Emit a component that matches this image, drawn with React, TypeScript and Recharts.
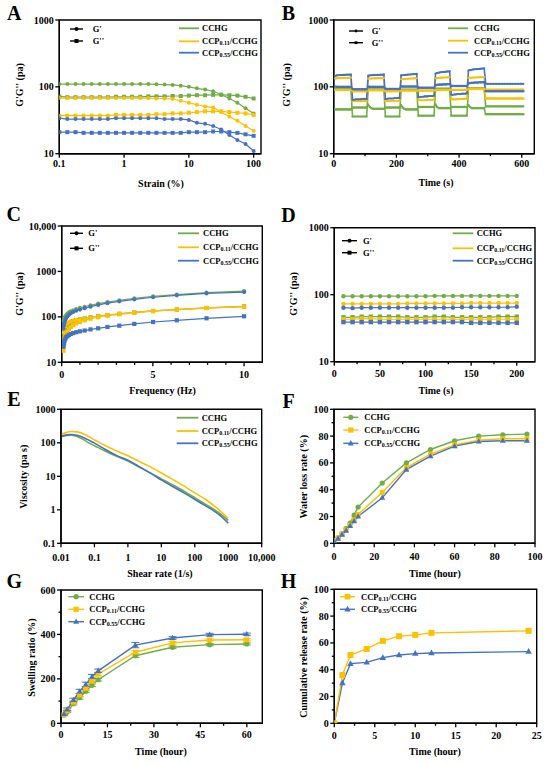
import React from 'react';
import { LineChart, Line, XAxis, YAxis, ReferenceArea, ErrorBar } from 'recharts';

const GREEN = '#70AD47';
const GOLD = '#FFC000';
const BLUE = '#4472C4';
const FONT = '"Liberation Serif", "Times New Roman", serif';
const YW = 30;
const XH = 20;

// ---------- A: strain sweep ----------
const A_strain = [0.1, 0.133, 0.178, 0.237, 0.316, 0.422, 0.562, 0.75, 1, 1.33, 1.78, 2.37, 3.16, 4.22, 5.62, 7.5, 10, 13.3, 17.8, 23.7, 31.6, 42.2, 56.2, 75, 100];
const A_gGp = [110, 110, 110, 110, 110, 110, 110, 110, 110, 110, 110, 110, 109, 108, 107, 104, 100, 95, 91, 86, 77, 67, 58, 48, 40];
const A_gGpp = [72, 70, 70, 70, 70, 70, 70, 71, 71, 71, 71, 72, 72, 72, 73, 73, 74, 75, 75, 76, 76, 75, 74, 71, 67];
const A_yGp = [68, 68, 68, 68, 68, 68, 68, 68, 68, 68, 68, 68, 67, 67, 66, 62, 58, 54, 51, 49, 42, 36, 31, 26, 22];
const A_yGpp = [37, 37, 37, 37, 37, 37, 37, 38, 38, 38, 38, 38, 39, 39, 40, 40, 41, 42, 43, 43, 43, 42, 41, 40, 38];
const A_bGp = [34, 33, 33, 33, 33, 33, 33, 34, 34, 34, 34, 34, 34, 33, 33, 33, 32, 29, 28, 26, 23, 19, 16, 14, 11];
const A_bGpp = [21, 21, 21, 20.5, 20.5, 20.5, 20.5, 20.5, 20.5, 20.5, 20.5, 20.5, 20.5, 20.5, 20.5, 20.5, 21, 21, 21, 21.5, 21.5, 21, 20.5, 19.5, 18.5];

// ---------- B: alternating strain time sweep ----------
const B_time = [
  5, 10, 15, 20, 25, 30, 35, 40, 45, 50, 55,
  60, 65, 70, 75, 80, 85, 90, 95, 100, 105,
  110, 115, 120, 125, 130, 135, 140, 145, 150, 155, 160,
  165, 170, 175, 180, 185, 190, 195, 200, 205, 210,
  215, 220, 225, 230, 235, 240, 245, 250, 255, 260, 265,
  270, 275, 280, 285, 290, 295, 300, 305, 310, 315, 320,
  325, 330, 335, 340, 345, 350, 355, 360, 365, 370,
  375, 380, 385, 390, 395, 400, 405, 410, 415, 420, 425,
  430, 435, 440, 445, 450, 455, 460, 465, 470, 475, 480,
  485, 490, 495, 500, 505, 510, 515, 520, 525, 530, 535, 540, 545, 550, 555, 560, 565, 570, 575, 580, 585, 590, 595, 600, 605,
];
const B_bGp = [
  146, 148, 149, 150, 150, 151, 151, 152, 152, 152, 153,
  64, 64, 65, 65, 65, 65, 66, 66, 66, 66,
  147, 148, 149, 150, 150, 151, 151, 151, 152, 152, 153,
  66, 66, 67, 67, 67, 67, 68, 68, 68, 68,
  148, 149, 150, 151, 152, 153, 153, 154, 155, 155, 156,
  70, 70, 71, 71, 72, 72, 72, 73, 73, 73, 74,
  158, 161, 163, 165, 166, 167, 168, 169, 170, 171,
  76, 76, 77, 77, 78, 78, 78, 79, 79, 79, 80,
  175, 178, 180, 182, 183, 184, 185, 186, 187, 188, 189,
  112, 111, 111, 111, 111, 111, 111, 111, 111, 111, 111, 111, 111, 111, 111, 111, 111, 111, 111, 111, 111, 111, 111, 111, 111,
];
const B_bGpp = [
  101, 100, 100, 100, 100, 100, 100, 100, 100, 100, 100,
  93, 92, 92, 92, 92, 92, 92, 92, 92, 92,
  101, 100, 100, 100, 100, 100, 100, 100, 100, 100, 100,
  94, 93, 93, 93, 93, 93, 93, 93, 93, 93,
  102, 101, 101, 101, 101, 101, 101, 101, 101, 101, 101,
  98, 97, 97, 97, 97, 97, 97, 97, 97, 97, 97,
  106, 107, 108, 108, 108, 109, 109, 109, 110, 110,
  104, 103, 103, 103, 103, 103, 103, 103, 103, 103, 103,
  113, 114, 115, 115, 116, 116, 116, 117, 117, 117, 118,
  86, 86, 86, 86, 86, 86, 86, 86, 86, 86, 86, 86, 86, 86, 86, 86, 86, 86, 86, 86, 86, 86, 86, 86, 86,
];
const B_yGp = [
  133, 134, 135, 135, 135, 136, 136, 136, 136, 137, 137,
  61, 61, 61, 61, 61, 61, 61, 61, 61, 61,
  132, 133, 133, 134, 134, 134, 135, 135, 135, 135, 135,
  61, 61, 61, 61, 62, 62, 62, 62, 62, 62,
  130, 131, 131, 132, 132, 133, 133, 133, 134, 134, 134,
  63, 63, 63, 63, 63, 63, 64, 64, 64, 64, 64,
  134, 135, 136, 137, 137, 138, 138, 138, 139, 139,
  65, 65, 65, 65, 65, 66, 66, 66, 66, 66, 66,
  136, 137, 137, 138, 138, 138, 139, 139, 139, 140, 140,
  91, 91, 91, 91, 91, 91, 91, 91, 91, 91, 91, 91, 91, 91, 91, 91, 91, 91, 91, 91, 91, 91, 91, 91, 91,
];
const B_yGpp = [
  90, 90, 90, 90, 90, 90, 90, 90, 90, 90, 90,
  86, 86, 86, 86, 86, 86, 86, 86, 86, 86,
  89, 89, 89, 89, 89, 89, 89, 89, 89, 89, 89,
  86, 86, 86, 86, 86, 86, 86, 86, 86, 86,
  88, 88, 88, 88, 88, 88, 88, 88, 88, 88, 88,
  88, 88, 88, 88, 88, 88, 88, 88, 88, 88, 88,
  90, 90, 90, 90, 90, 90, 90, 90, 90, 90,
  90, 90, 90, 90, 90, 90, 90, 90, 90, 90, 90,
  93, 93, 93, 93, 93, 93, 93, 93, 93, 93, 93,
  67, 67, 67, 67, 67, 67, 67, 67, 67, 67, 67, 67, 67, 67, 67, 67, 67, 67, 67, 67, 67, 67, 67, 67, 67,
];
const B_gGp = [
  93, 93, 93, 93, 93, 93, 93, 93, 93, 93, 93,
  36, 36, 36, 36, 36, 36, 36, 36, 36, 36,
  92, 92, 92, 92, 92, 92, 92, 92, 92, 92, 92,
  36, 36, 36, 36, 36, 36, 36, 36, 36, 36,
  91, 91, 91, 91, 91, 91, 91, 91, 91, 91, 91,
  37, 37, 37, 37, 37, 37, 37, 37, 37, 37, 37,
  94, 94, 94, 94, 94, 94, 94, 94, 94, 94,
  37, 37, 37, 37, 37, 37, 37, 37, 37, 37, 37,
  95, 95, 95, 95, 95, 95, 95, 95, 95, 95, 95,
  51, 51, 51, 51, 51, 51, 51, 51, 51, 51, 51, 51, 51, 51, 51, 51, 51, 51, 51, 51, 51, 51, 51, 51, 51,
];
const B_gGpp = [
  46, 46, 46, 46, 46, 46, 46, 46, 46, 46, 46,
  49, 49, 49, 49, 49, 49, 49, 49, 49, 49,
  54, 50, 48, 47, 47, 47, 47, 47, 47, 47, 47,
  49, 49, 49, 49, 49, 49, 49, 49, 49, 49,
  53, 49, 47, 46, 46, 46, 46, 46, 46, 46, 46,
  50, 50, 50, 50, 50, 50, 50, 50, 50, 50, 50,
  54, 50, 48, 48, 48, 48, 48, 48, 48, 48,
  50, 50, 50, 50, 50, 50, 50, 50, 50, 50, 50,
  53, 50, 48, 48, 48, 48, 48, 48, 48, 48, 48,
  39, 39, 39, 39, 39, 39, 39, 39, 39, 39, 39, 39, 39, 39, 39, 39, 39, 39, 39, 39, 39, 39, 39, 39, 39,
];

// ---------- C: frequency sweep ----------
const C_freq = [0.1, 0.126, 0.158, 0.2, 0.251, 0.316, 0.398, 0.501, 0.631, 0.794, 1, 1.26, 1.58, 2, 2.51, 3.16, 3.98, 5.01, 6.31, 7.94, 10];
const C_gGp = [80, 88, 95, 103, 110, 118, 125, 133, 140, 148, 157, 167, 180, 195, 212, 232, 255, 282, 310, 340, 368];
const C_bGp = [55, 65, 75, 85, 95, 103, 112, 120, 128, 137, 145, 155, 168, 183, 200, 220, 243, 270, 298, 328, 352];
const C_gGpp = [35, 42, 50, 56, 62, 67, 72, 77, 81, 85, 89, 93, 98, 104, 110, 117, 125, 135, 145, 157, 170];
const C_yGp = [45, 52, 58, 63, 68, 72, 76, 80, 83, 86, 89, 93, 98, 104, 110, 117, 125, 135, 145, 157, 168];
const C_yGpp = [18, 24, 30, 36, 42, 48, 54, 60, 66, 72, 77, 84, 91, 98, 106, 114, 123, 133, 144, 156, 167];
const C_bGpp = [22, 26, 30, 33, 36, 38, 40, 42, 44, 46, 48, 50, 53, 56, 60, 64, 70, 77, 84, 93, 103];

// ---------- D: time sweep ----------
const D_time = [10, 20, 30, 40, 50, 60, 70, 80, 90, 100, 110, 120, 130, 140, 150, 160, 170, 180, 190, 200];
const D_gGp = [95, 95, 95, 95, 95, 95, 95, 95, 95, 95, 96, 96, 96, 96, 96, 96, 96, 96, 96, 96];
const D_yGp = [73, 73, 73, 73, 73, 73, 73, 74, 74, 74, 74, 74, 74, 74, 75, 75, 75, 75, 75, 75];
const D_bGp = [64, 63, 64, 64, 64, 64, 64, 64, 64, 64, 64, 64, 64, 65, 65, 65, 65, 65, 65, 66];
const D_gGpp = [46, 46, 47, 47, 47, 47, 47, 46, 46, 46, 47, 47, 46, 46, 46, 46, 46, 47, 47, 47];
const D_yGpp = [43, 43, 44, 44, 43, 43, 43, 43, 43, 43, 43, 43, 43, 43, 43, 43, 43, 43, 43, 43];
const D_bGpp = [39, 39, 39, 39, 39, 39, 39, 39, 39, 39, 39, 39, 39, 39, 38, 38, 38, 38, 38, 38];

// ---------- E: viscosity ----------
const E_rate = [0.01, 0.015, 0.02, 0.03, 0.05, 0.07, 0.1, 0.2, 0.5, 1, 2, 5, 10, 20, 50, 100, 200, 500, 1000];
const E_green = [151, 165, 170, 155, 120, 98, 82, 58, 38, 28.5, 19.5, 12.2, 8.4, 5.8, 3.5, 2.3, 1.5, 0.85, 0.48];
const E_gold = [181, 205, 218, 212, 180, 150, 122, 85, 55, 41, 29, 18.5, 12.5, 8.5, 5, 3.2, 2.1, 1.05, 0.55];
const E_blue = [158, 172, 177, 168, 140, 118, 98, 65, 40, 30, 20.5, 12, 7.8, 5.2, 3.1, 2.05, 1.35, 0.75, 0.4];

// ---------- F: water loss ----------
const F_time = [0, 2, 4, 6, 8, 10, 12, 24, 36, 48, 60, 72, 84, 96];
const F_green = [2, 4, 7, 11, 15, 21, 27, 45, 60, 70, 76.5, 80, 81, 81.5];
const F_gold = [2, 4, 7, 10, 13.5, 17.5, 21.5, 38, 56.5, 66.5, 73.5, 77, 78, 78];
const F_blue = [1.5, 3.5, 6.5, 9.5, 13, 16.5, 20, 34, 55, 65, 72.5, 76, 76.5, 76.5];

// ---------- G: swelling ----------
const G_time = [1, 2, 4, 6, 8, 10, 12, 24, 36, 48, 60];
const G_green = [37, 52, 88, 115, 144, 171, 196, 304, 342, 354, 357];
const G_gold = [40, 58, 95, 127, 157, 190, 222, 320, 362, 375, 376];
const G_blue = [42, 63, 105, 143, 175, 210, 236, 352, 384, 399, 401];
const G_greenErr = [3, 4, 5, 6, 6, 6, 6, 8, 6, 5, 5];
const G_goldErr = [3, 5, 6, 8, 8, 10, 8, 8, 6, 5, 5];
const G_blueErr = [4, 6, 8, 10, 10, 10, 8, 12, 6, 6, 5];

// ---------- H: release ----------
const H_time = [0, 1, 2, 4, 6, 8, 10, 12, 24];
const H_gold = [0, 36, 51, 55.5, 61.5, 65, 66, 67.5, 69];
const H_blue = [0, 30, 44.5, 45.5, 49, 51, 52, 52.5, 53.5];

const NAMES = [['CCHG'], ['CCP', '0.11', '/CCHG'], ['CCP', '0.55', '/CCHG']];

const rowsA = A_strain.map((x, i) => ({ x, gGp: A_gGp[i], gGpp: A_gGpp[i], yGp: A_yGp[i], yGpp: A_yGpp[i], bGp: A_bGp[i], bGpp: A_bGpp[i] }));
const rowsB = B_time.map((x, i) => ({ x, gGp: B_gGp[i], gGpp: B_gGpp[i], yGp: B_yGp[i], yGpp: B_yGpp[i], bGp: B_bGp[i], bGpp: B_bGpp[i] }));
const rowsC = C_freq.map((x, i) => ({ x, gGp: C_gGp[i], gGpp: C_gGpp[i], yGp: C_yGp[i], yGpp: C_yGpp[i], bGp: C_bGp[i], bGpp: C_bGpp[i] }));
const rowsD = D_time.map((x, i) => ({ x, gGp: D_gGp[i], gGpp: D_gGpp[i], yGp: D_yGp[i], yGpp: D_yGpp[i], bGp: D_bGp[i], bGpp: D_bGpp[i] }));
const rowsE = E_rate.map((x, i) => ({ x, g: E_green[i], y: E_gold[i], b: E_blue[i] }));
const rowsF = F_time.map((x, i) => ({ x, g: F_green[i], y: F_gold[i], b: F_blue[i] }));
const rowsG = G_time.map((x, i) => ({ x, g: G_green[i], y: G_gold[i], b: G_blue[i], ge: G_greenErr[i], ye: G_goldErr[i], be: G_blueErr[i] }));
const rowsH = H_time.map((x, i) => ({ x, y: H_gold[i], b: H_blue[i] }));

const fmtNum = (v: number) => (v >= 10000 ? v.toLocaleString('en-US') : String(v));

function marker(shape: string, cx: number, cy: number, s: number, color: string, key?: any) {
  if (shape === 'circle') return <circle key={key} cx={cx} cy={cy} r={s} fill={color} />;
  if (shape === 'square') return <rect key={key} x={cx - s} y={cy - s} width={2 * s} height={2 * s} fill={color} />;
  return (
    <polygon
      key={key}
      points={`${cx},${cy - s * 1.25} ${cx - s * 1.15},${cy + s * 0.8} ${cx + s * 1.15},${cy + s * 0.8}`}
      fill={color}
    />
  );
}

const mk = (shape: string, color: string, s: number) => (p: any) => {
  if (p.cx == null || p.cy == null) return <g key={p.index} />;
  return marker(shape, p.cx, p.cy, s, color, p.index);
};

const tickX = (labels: number[], gap: number) => (p: any) => {
  const v = p.payload.value;
  const major = labels.indexOf(v) >= 0;
  return (
    <g>
      <line x1={p.x} x2={p.x} y1={p.y} y2={p.y + (major ? 4 : 2.5)} stroke="#000" strokeWidth={1.3} />
      {major && (
        <text x={p.x} y={p.y + gap + 6.8} textAnchor="middle" fontSize={10} fontWeight="bold" fontFamily={FONT} fill="#000">
          {fmtNum(v)}
        </text>
      )}
    </g>
  );
};

const tickY = (labels: number[]) => (p: any) => {
  const v = p.payload.value;
  const major = labels.indexOf(v) >= 0;
  return (
    <g>
      <line x1={p.x - (major ? 4 : 2.5)} x2={p.x} y1={p.y} y2={p.y} stroke="#000" strokeWidth={1.3} />
      {major && (
        <text x={p.x - 5.5} y={p.y} dy="0.35em" textAnchor="end" fontSize={10} fontWeight="bold" fontFamily={FONT} fill="#000">
          {fmtNum(v)}
        </text>
      )}
    </g>
  );
};

const AXL = { stroke: '#000', strokeWidth: 1.4 };

function xAxis(domain: number[], ticks: number[], labels: number[], gap: number, log = false) {
  return (
    <XAxis
      type="number"
      dataKey="x"
      domain={domain}
      ticks={ticks}
      interval={0}
      tickSize={0}
      tickMargin={0}
      tickLine={false}
      height={XH}
      axisLine={AXL}
      allowDataOverflow
      scale={log ? 'log' : 'linear'}
      tick={tickX(labels, gap)}
    />
  );
}

function yAxis(domain: number[], ticks: number[], labels: number[], log = false) {
  return (
    <YAxis
      type="number"
      domain={domain}
      ticks={ticks}
      interval={0}
      tickSize={0}
      tickMargin={0}
      tickLine={false}
      width={YW}
      axisLine={AXL}
      allowDataOverflow
      scale={log ? 'log' : 'linear'}
      tick={tickY(labels)}
    />
  );
}

function frame(xd: number[], yd: number[]) {
  return <ReferenceArea x1={xd[0]} x2={xd[1]} y1={yd[0]} y2={yd[1]} fill="none" fillOpacity={0} stroke="#000" strokeWidth={1.4} ifOverflow="visible" />;
}

type Box = { left: number; top: number; w: number; h: number };
type Plot = { x0: number; y0: number; x1: number; y1: number };

function Panel({ box, plot, data, children }: { box: Box; plot: Plot; data: any[]; children: React.ReactNode }) {
  const margin = {
    left: plot.x0 - box.left - YW,
    top: plot.y0 - box.top,
    right: box.left + box.w - plot.x1,
    bottom: box.top + box.h - plot.y1 - XH,
  };
  return (
    <div style={{ position: 'absolute', left: box.left, top: box.top }}>
      <LineChart width={box.w} height={box.h} data={data} margin={margin}>
        {children}
      </LineChart>
    </div>
  );
}

// six rheology series (G' circles, G'' squares)
function rheoLines(s: number, w: number) {
  const cfg: [string, string, string][] = [
    ['gGp', GREEN, 'circle'],
    ['gGpp', GREEN, 'square'],
    ['yGp', GOLD, 'circle'],
    ['yGpp', GOLD, 'square'],
    ['bGp', BLUE, 'circle'],
    ['bGpp', BLUE, 'square'],
  ];
  return cfg.map(([k, c, sh]) => (
    <Line key={k} dataKey={k} type="linear" stroke={c} strokeWidth={w} dot={mk(sh, c, s)} activeDot={false} isAnimationActive={false} />
  ));
}

function T({ x, y, size = 10, anchor = 'middle', rot = false, children }: any) {
  return (
    <text
      x={x}
      y={y}
      fontSize={size}
      fontWeight="bold"
      fontFamily={FONT}
      fill="#000"
      textAnchor={anchor}
      dominantBaseline="central"
      transform={rot ? `rotate(-90 ${x} ${y})` : undefined}
    >
      {children}
    </text>
  );
}

function Name({ x, y, parts }: { x: number; y: number; parts: string[] }) {
  if (parts.length === 1) return <T x={x} y={y} size={8.5} anchor="start">{parts[0]}</T>;
  return (
    <T x={x} y={y} size={8.5} anchor="start">
      {parts[0]}
      <tspan fontSize={6} dy={2}>{parts[1]}</tspan>
      <tspan dy={-2}>{parts[2]}</tspan>
    </T>
  );
}

function Sym({ x0, x1, y, color, shape, s = 2.2, w = 1.4 }: any) {
  return (
    <g>
      <line x1={x0} x2={x1} y1={y} y2={y} stroke={color} strokeWidth={w} />
      {shape && marker(shape, (x0 + x1) / 2, y, s, color)}
    </g>
  );
}

function GLegend({ x0, x1, tx, rows, s }: any) {
  return (
    <g>
      <Sym x0={x0} x1={x1} y={rows[0]} color="#000" shape="circle" s={s} />
      <T x={tx} y={rows[0]} size={8.5} anchor="start">G'</T>
      <Sym x0={x0} x1={x1} y={rows[1]} color="#000" shape="square" s={s} />
      <T x={tx} y={rows[1]} size={8.5} anchor="start">G''</T>
    </g>
  );
}

function SampleLegend({ x0, x1, tx, rows, shapes, s, names = NAMES, colors = [GREEN, GOLD, BLUE], w = 1.8 }: any) {
  return (
    <g>
      {rows.map((y: number, i: number) => (
        <g key={i}>
          <Sym x0={x0} x1={x1} y={y} color={colors[i]} shape={shapes ? shapes[i] : null} s={s} w={w} />
          <Name x={tx} y={y} parts={names[i]} />
        </g>
      ))}
    </g>
  );
}

export default function App() {
  return (
    <div style={{ position: 'relative', width: 550, height: 764, background: '#fff', overflow: 'hidden' }}>
      <style>{'body{margin:0}'}</style>

      {/* A */}
      <Panel box={{ left: 0, top: 0, w: 275, h: 190 }} plot={{ x0: 59.3, y0: 20, x1: 261, y1: 153.7 }} data={rowsA}>
        {xAxis([0.1, 130], [0.1, 1, 10, 100], [0.1, 1, 10, 100], 6.3, true)}
        {yAxis([10, 1000], [10, 100, 1000], [10, 100, 1000], true)}
        {frame([0.1, 130], [10, 1000])}
        {rheoLines(2, 1.2)}
      </Panel>

      {/* B */}
      <Panel box={{ left: 275, top: 0, w: 275, h: 190 }} plot={{ x0: 333.7, y0: 20, x1: 534.3, y1: 153.7 }} data={rowsB}>
        {xAxis([0, 640], [0, 100, 200, 300, 400, 500, 600], [0, 200, 400, 600], 6)}
        {yAxis([10, 1000], [10, 100, 1000], [10, 100, 1000], true)}
        {frame([0, 640], [10, 1000])}
        {rheoLines(1.1, 1.6)}
      </Panel>

      {/* C */}
      <Panel box={{ left: 0, top: 190, w: 275, h: 195 }} plot={{ x0: 61.7, y0: 226, x1: 262.3, y1: 362.3 }} data={rowsC}>
        {xAxis([0, 11], [0, 1, 2, 3, 4, 5, 6, 7, 8, 9, 10], [0, 5, 10], 9.3)}
        {yAxis([10, 10000], [10, 100, 1000, 10000], [10, 100, 1000, 10000], true)}
        {frame([0, 11], [10, 10000])}
        {rheoLines(2.1, 1.2)}
      </Panel>

      {/* D */}
      <Panel box={{ left: 275, top: 190, w: 275, h: 195 }} plot={{ x0: 334.3, y0: 227.7, x1: 535, y1: 361.7 }} data={rowsD}>
        {xAxis([0, 220], [0, 25, 50, 75, 100, 125, 150, 175, 200], [0, 50, 100, 150, 200], 8.3)}
        {yAxis([10, 1000], [10, 100, 1000], [10, 100, 1000], true)}
        {frame([0, 220], [10, 1000])}
        {rheoLines(2.2, 1.2)}
      </Panel>

      {/* E */}
      <Panel box={{ left: 0, top: 385, w: 290, h: 190 }} plot={{ x0: 61, y0: 409.3, x1: 261.7, y1: 543.3 }} data={rowsE}>
        {xAxis([0.01, 10000], [0.01, 0.1, 1, 10, 100, 1000, 10000], [0.01, 0.1, 1, 10, 100, 1000, 10000], 11, true)}
        {yAxis([0.1, 1000], [0.1, 1, 10, 100, 1000], [0.1, 1, 10, 100, 1000], true)}
        {frame([0.01, 10000], [0.1, 1000])}
        <Line dataKey="g" type="monotone" stroke={GREEN} strokeWidth={1.6} dot={false} activeDot={false} isAnimationActive={false} />
        <Line dataKey="y" type="monotone" stroke={GOLD} strokeWidth={1.6} dot={false} activeDot={false} isAnimationActive={false} />
        <Line dataKey="b" type="monotone" stroke={BLUE} strokeWidth={1.6} dot={false} activeDot={false} isAnimationActive={false} />
      </Panel>

      {/* F */}
      <Panel box={{ left: 275, top: 385, w: 275, h: 190 }} plot={{ x0: 334, y0: 409.3, x1: 535, y1: 543.3 }} data={rowsF}>
        {xAxis([0, 100], [0, 10, 20, 30, 40, 50, 60, 70, 80, 90, 100], [0, 20, 40, 60, 80, 100], 10)}
        {yAxis([0, 100], [0, 10, 20, 30, 40, 50, 60, 70, 80, 90, 100], [0, 20, 40, 60, 80, 100])}
        {frame([0, 100], [0, 100])}
        <Line dataKey="g" type="linear" stroke={GREEN} strokeWidth={1.4} dot={mk('circle', GREEN, 2.6)} activeDot={false} isAnimationActive={false} />
        <Line dataKey="y" type="linear" stroke={GOLD} strokeWidth={1.4} dot={mk('square', GOLD, 2.5)} activeDot={false} isAnimationActive={false} />
        <Line dataKey="b" type="linear" stroke={BLUE} strokeWidth={1.4} dot={mk('triangle', BLUE, 2.6)} activeDot={false} isAnimationActive={false} />
      </Panel>

      {/* G */}
      <Panel box={{ left: 0, top: 575, w: 275, h: 189 }} plot={{ x0: 61, y0: 590, x1: 262.3, y1: 723.3 }} data={rowsG}>
        {xAxis([0, 65], [0, 7.5, 15, 22.5, 30, 37.5, 45, 52.5, 60], [0, 15, 30, 45, 60], 8.3)}
        {yAxis([0, 600], [0, 100, 200, 300, 400, 500, 600], [0, 200, 400, 600])}
        {frame([0, 65], [0, 600])}
        <Line dataKey="g" type="linear" stroke={GREEN} strokeWidth={1.4} dot={mk('circle', GREEN, 2.6)} activeDot={false} isAnimationActive={false}>
          <ErrorBar dataKey="ge" width={4} stroke={GREEN} strokeWidth={1} direction="y" isAnimationActive={false} />
        </Line>
        <Line dataKey="y" type="linear" stroke={GOLD} strokeWidth={1.4} dot={mk('square', GOLD, 2.5)} activeDot={false} isAnimationActive={false}>
          <ErrorBar dataKey="ye" width={4} stroke={GOLD} strokeWidth={1} direction="y" isAnimationActive={false} />
        </Line>
        <Line dataKey="b" type="linear" stroke={BLUE} strokeWidth={1.4} dot={mk('triangle', BLUE, 2.6)} activeDot={false} isAnimationActive={false}>
          <ErrorBar dataKey="be" width={4} stroke={BLUE} strokeWidth={1} direction="y" isAnimationActive={false} />
        </Line>
      </Panel>

      {/* H */}
      <Panel box={{ left: 275, top: 575, w: 275, h: 189 }} plot={{ x0: 334.3, y0: 589.3, x1: 536.7, y1: 723.3 }} data={rowsH}>
        {xAxis([0, 25], [0, 2.5, 5, 7.5, 10, 12.5, 15, 17.5, 20, 22.5, 25], [0, 5, 10, 15, 20, 25], 9)}
        {yAxis([0, 100], [0, 10, 20, 30, 40, 50, 60, 70, 80, 90, 100], [0, 20, 40, 60, 80, 100])}
        {frame([0, 25], [0, 100])}
        <Line dataKey="b" type="linear" stroke={BLUE} strokeWidth={1.4} dot={mk('triangle', BLUE, 2.8)} activeDot={false} isAnimationActive={false} />
        <Line dataKey="y" type="linear" stroke={GOLD} strokeWidth={1.4} dot={mk('square', GOLD, 3)} activeDot={false} isAnimationActive={false} />
      </Panel>

      {/* titles, letters, legends */}
      <svg width={550} height={764} style={{ position: 'absolute', left: 0, top: 0, pointerEvents: 'none' }}>
        <T x={14.2} y={13.3} size={20}>A</T>
        <T x={288.5} y={13} size={20}>B</T>
        <T x={13.8} y={213.5} size={20}>C</T>
        <T x={288.5} y={215} size={20}>D</T>
        <T x={13.8} y={398.5} size={20}>E</T>
        <T x={288.5} y={401} size={20}>F</T>
        <T x={14.2} y={581} size={20}>G</T>
        <T x={288.5} y={581} size={20}>H</T>

        <T x={161} y={183}>Strain (%)</T>
        <T x={19} y={85} rot>G'G'' (pa)</T>
        <T x={436} y={182.7}>Time (s)</T>
        <T x={286} y={85} rot>G'G'' (pa)</T>
        <T x={162.5} y={390.7}>Frequency (Hz)</T>
        <T x={19} y={294} rot>G'G'' (pa)</T>
        <T x={436} y={390}>Time (s)</T>
        <T x={293} y={294} rot>G'G'' (pa)</T>
        <T x={160} y={573}>Shear rate (1/s)</T>
        <T x={24} y={476.7} rot>Viscosity (pa s)</T>
        <T x={435} y={573}>Time (hour)</T>
        <T x={304} y={476.7} rot>Water loss rate (%)</T>
        <T x={161} y={751.7}>Time (hour)</T>
        <T x={31} y={657.5} rot>Swelling ratio (%)</T>
        <T x={435} y={751.7}>Time (hour)</T>
        <T x={303} y={657.5} rot>Cumulative release rate (%)</T>

        <GLegend x0={70} x1={83} tx={92.7} rows={[29, 41]} s={2} />
        <SampleLegend x0={179} x1={199} tx={202} rows={[28.3, 41.3, 52.7]} />

        <GLegend x0={349} x1={363} tx={371.7} rows={[31, 42.7]} s={1.4} />
        <SampleLegend x0={448} x1={468} tx={474} rows={[28.3, 40.7, 52.7]} />

        <GLegend x0={70} x1={83} tx={88.3} rows={[233.3, 248.3]} s={2} />
        <SampleLegend x0={178} x1={199} tx={203} rows={[233.3, 247.3, 260.7]} />

        <GLegend x0={342} x1={357} tx={363} rows={[240.7, 252.7]} s={2} />
        <SampleLegend x0={452.7} x1={473.3} tx={476.7} rows={[233.3, 248.3, 260.7]} />

        <SampleLegend x0={176.7} x1={198.3} tx={201.7} rows={[417.7, 431, 443.3]} />

        <SampleLegend x0={343.3} x1={358.3} tx={364.3} rows={[417.3, 430, 443.3]} shapes={['circle', 'square', 'triangle']} s={2.6} w={1.4} />

        <SampleLegend x0={68.3} x1={84} tx={89.3} rows={[596.7, 609.3, 621.7]} shapes={['circle', 'square', 'triangle']} s={2.6} w={1.4} />

        <SampleLegend
          x0={340}
          x1={355}
          tx={361}
          rows={[596.7, 609.3]}
          shapes={['square', 'triangle']}
          s={2.8}
          w={1.4}
          names={[NAMES[1], NAMES[2]]}
          colors={[GOLD, BLUE]}
        />
      </svg>
    </div>
  );
}
